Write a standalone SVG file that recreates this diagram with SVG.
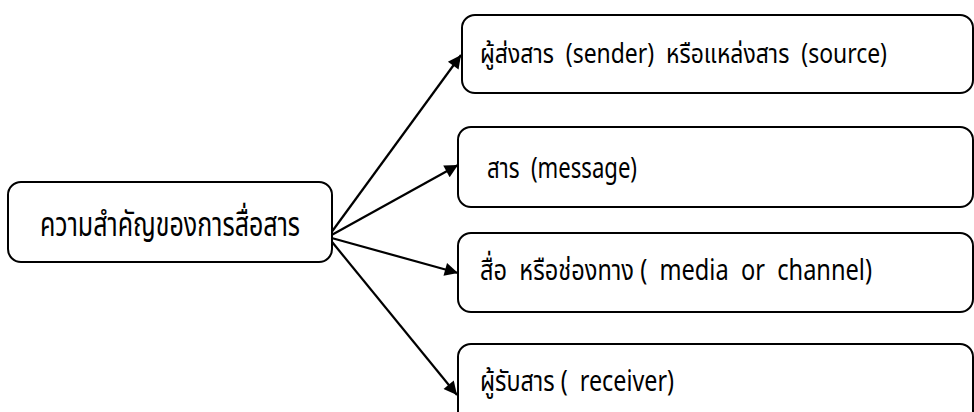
<svg xmlns="http://www.w3.org/2000/svg" width="974" height="412" viewBox="0 0 974 412">
<style>
.box{fill:#fff;stroke:#000;stroke-width:2}
.t{font-family:"Noto Sans","Noto Sans Thai","DejaVu Sans",sans-serif;font-size:29px;fill:#000;white-space:pre}
.c{stroke:#000;stroke-width:2.2;fill:none;marker-end:url(#ah)}
</style>
<defs>
<marker id="ah" viewBox="0 0 10 10" refX="10" refY="5" markerWidth="7.5" markerHeight="6" markerUnits="strokeWidth" orient="auto">
<path d="M0,0 L10,5 L0,10 z" fill="#000"/>
</marker>
</defs>
<rect width="974" height="412" fill="#fff"/>
<g id="connectors">
<line class="c" x1="328" y1="237" x2="461" y2="55"/>
<line class="c" x1="328" y1="237" x2="458" y2="165"/>
<line class="c" x1="328" y1="237" x2="458" y2="273"/>
<line class="c" x1="328" y1="237" x2="457" y2="395"/>
</g>
<g id="main">
<rect class="box" x="8" y="182" width="324" height="80" rx="13"/>
<text class="t" x="40" y="236" textLength="260" lengthAdjust="spacingAndGlyphs" style="font-size:33px">ความสำคัญของการสื่อสาร</text>
</g>
<g id="sender">
<rect class="box" x="462" y="15" width="511" height="78" rx="13"/>
<text class="t" x="480" y="63" textLength="407" lengthAdjust="spacingAndGlyphs" style="font-size:27px">ผู้ส่งสาร  (sender)  หรือแหล่งสาร  (source)</text>
</g>
<g id="message">
<rect class="box" x="458" y="127" width="515" height="80" rx="13"/>
<text class="t" x="487" y="178" textLength="150" lengthAdjust="spacingAndGlyphs">สาร  (message)</text>
</g>
<g id="media">
<rect class="box" x="458" y="233" width="515" height="79" rx="13"/>
<text class="t" x="480" y="280" textLength="392" lengthAdjust="spacingAndGlyphs">สื่อ  หรือช่องทาง (  media  or  channel)</text>
</g>
<g id="receiver">
<rect class="box" x="458" y="344" width="515" height="80" rx="13"/>
<text class="t" x="480" y="391" textLength="194" lengthAdjust="spacingAndGlyphs">ผู้รับสาร (  receiver)</text>
</g>
</svg>
